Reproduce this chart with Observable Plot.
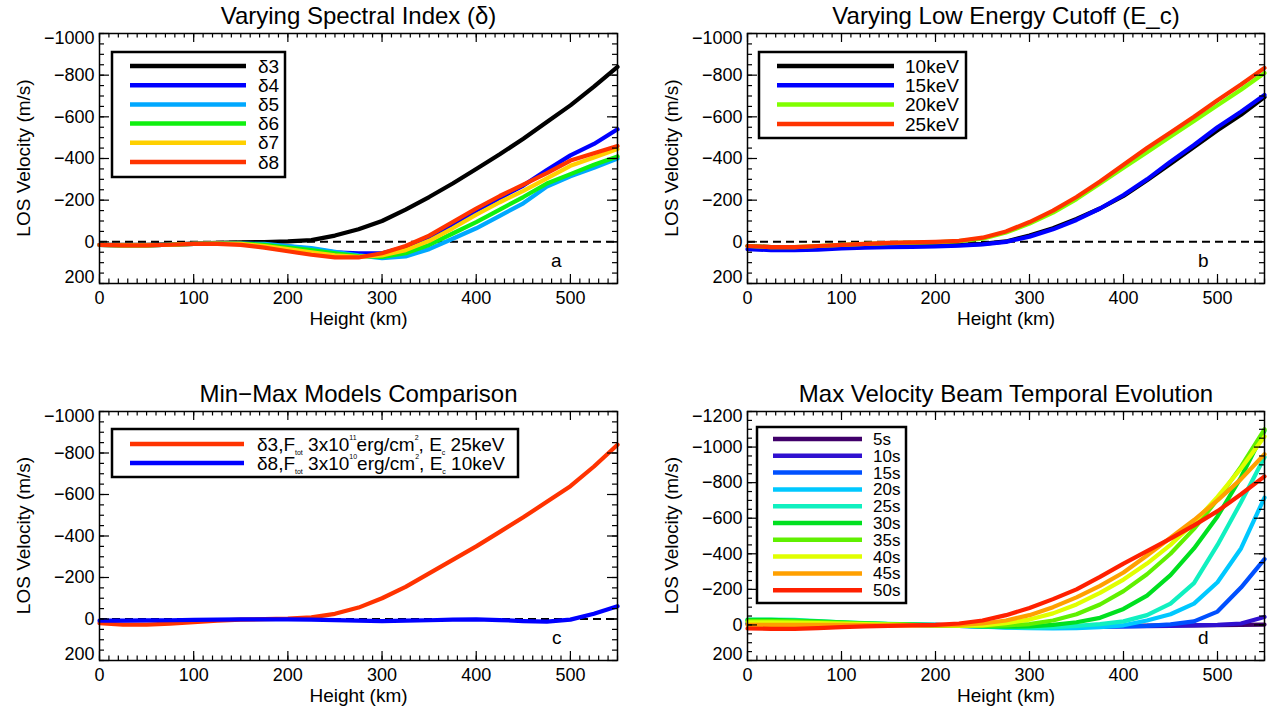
<!DOCTYPE html>
<html><head><meta charset="utf-8">
<script src="https://cdn.jsdelivr.net/npm/d3@7"></script>
<script src="https://cdn.jsdelivr.net/npm/@observablehq/plot@0.6"></script>
<style>
body{margin:0;background:#fff;width:1273px;height:713px;position:relative;overflow:hidden;font-family:"Liberation Sans",Arial,sans-serif}
.panel{position:absolute}
#overlay{position:absolute;left:0;top:0;pointer-events:none}
</style></head><body>
<script>
// ---------- DATA ----------
const heights = [0,25,50,75,100,125,150,175,200,225,250,275,300,325,350,375,400,425,450,475,500,525,550];

// Panel a: varying spectral index
const deltaNames = ["δ3","δ4","δ5","δ6","δ7","δ8"];
const delta3 = [15,15,15,12,8,5,3,1,-2,-8,-30,-60,-100,-155,-215,-280,-350,-420,-495,-575,-655,-745,-840];
const delta4 = [15,17,17,14,10,8,8,12,22,35,50,55,55,25,-20,-85,-150,-210,-270,-345,-415,-470,-540];
const delta5 = [15,17,17,14,10,8,8,10,20,30,48,65,78,70,35,-15,-65,-125,-185,-265,-315,-355,-400];
const delta6 = [15,17,17,14,10,8,8,15,28,40,55,68,72,55,15,-40,-95,-155,-215,-280,-325,-370,-410];
const delta7 = [15,17,17,14,10,8,10,20,35,50,65,72,65,40,-5,-65,-130,-190,-245,-305,-365,-405,-445];
const delta8 = [15,17,17,14,10,10,15,28,45,62,75,75,55,20,-30,-95,-160,-220,-275,-330,-390,-425,-460];
const deltaColors = ["#000000","#0000ff","#00a8ff","#10f010","#ffd000","#ff3300"];

// Panel b: varying low energy cutoff
const cutoffNames = ["10keV","15keV","20keV","25keV"];
const cut10 = [20,25,28,27,25,22,20,20,18,15,10,-2,-30,-65,-110,-160,-220,-295,-375,-455,-535,-610,-695];
const cut15 = [35,40,40,37,32,28,25,24,22,18,12,0,-25,-60,-105,-160,-225,-300,-385,-465,-550,-625,-705];
const cut20 = [20,25,25,20,15,10,6,4,2,-3,-15,-45,-88,-140,-205,-280,-355,-430,-505,-580,-655,-730,-810];
const cut25 = [20,25,25,20,15,10,5,3,0,-5,-20,-50,-95,-150,-215,-290,-370,-450,-525,-600,-680,-755,-835];
const cutoffColors = ["#000000","#0000ff","#80ff00","#ff3300"];

// Panel c: min-max models
const modelNames = ["max","min"];
const modelMax = [20,27,27,22,15,8,3,1,-2,-8,-25,-55,-100,-155,-220,-285,-350,-420,-490,-565,-640,-735,-840];
const modelMin = [8,8,7,6,4,3,2,2,2,3,5,8,10,8,6,3,2,5,10,13,3,-25,-62];
const modelColors = ["#ff3300","#0000ff"];

// Panel d: temporal evolution
const timeNames = ["5s","10s","15s","20s","25s","30s","35s","40s","45s","50s"];
const t5  = [-5,-5,-5,-4,-3,-2,-1,0,0,2,4,5,6,6,6,5,5,4,3,2,1,0,-2];
const t10 = [-8,-8,-8,-6,-5,-3,-2,0,2,4,6,8,10,10,10,9,8,7,5,3,0,-8,-45];
const t15 = [-12,-12,-12,-10,-8,-5,-3,0,3,6,9,12,13,13,12,10,8,5,-3,-20,-75,-210,-370];
const t20 = [-25,-22,-20,-15,-10,-7,-5,-2,0,5,10,15,18,20,18,12,2,-25,-60,-120,-240,-430,-716];
const t25 = [-30,-30,-28,-22,-15,-10,-6,-3,0,4,8,12,15,13,5,-5,-20,-55,-120,-235,-450,-690,-943];
const t30 = [-28,-28,-25,-20,-14,-9,-5,-2,1,4,8,10,8,0,-15,-40,-90,-165,-280,-430,-610,-830,-1092];
const t35 = [-22,-22,-20,-16,-12,-8,-4,-1,2,5,6,3,-5,-25,-60,-115,-190,-285,-400,-540,-705,-890,-1100];
const t40 = [-15,-15,-13,-10,-7,-4,-2,1,3,4,2,-10,-30,-65,-115,-180,-255,-345,-450,-575,-720,-880,-1060];
const t45 = [0,0,0,0,0,1,2,3,3,0,-8,-25,-55,-100,-155,-220,-295,-390,-490,-590,-700,-820,-960];
const t50 = [20,22,22,18,12,8,5,3,0,-8,-25,-55,-95,-145,-200,-270,-345,-415,-485,-560,-640,-735,-835];
const timeColors = ["#40006a","#3010d0","#0050ff","#00c8ff","#10f0c0","#00e020","#60f000","#e0ff00","#ffa000","#ff2000"];

const titles = ["Varying Spectral Index (δ)","Varying Low Energy Cutoff (E_c)","Min\u2212Max Models Comparison","Max Velocity Beam Temporal Evolution"];
const tags = ["a","b","c","d"];
const xLabel = "Height (km)";
const yLabel = "LOS Velocity (m/s)";

// ---------- DRAW ----------
const FONT = '"Liberation Sans", Arial, sans-serif';
const fmt = d => d < 0 ? "\u2212" + Math.abs(d) : String(d);
const ov = d3.select("body").append("svg").attr("id", "overlay").attr("width", 1273).attr("height", 713)
  .style("font-family", FONT).style("z-index", 5);

function makePanel({left, top, w, h, ml, mr, mt, mb, yMin, names, cols, series, title, tag}) {
  const fw = w - ml - mr, fh = h - mt - mb;
  const data = [];
  series.forEach((vals, k) => heights.forEach((x, i) => data.push({x, v: vals[i], name: names[k]})));
  const xMajor = d3.range(0, 501, 100), xMinor = d3.range(0, 551, 10);
  const yMajor = d3.range(yMin, 201, 200), yMinor = d3.range(yMin, 201, 50);
  const tk = {stroke: "black", strokeWidth: 1.2};
  const ax = {tickSize: 0, label: null, fontSize: 18, tickFormat: fmt};
  const svg = Plot.plot({
    width: w, height: h, marginLeft: ml, marginRight: mr, marginTop: mt, marginBottom: mb,
    x: {domain: [0, 550]},
    y: {domain: [200, yMin]},
    color: {domain: names, range: cols},
    style: {fontFamily: FONT, fontSize: "18px", color: "black", background: "white", overflow: "visible"},
    marks: [
      Plot.ruleY([0], {stroke: "black", strokeWidth: 2, strokeDasharray: "8,5"}),
      Plot.line(data, {x: "x", y: "v", z: "name", stroke: "name", strokeWidth: 4.2, strokeLinejoin: "round"}),
      Plot.tickX(xMinor, {x: d => d, insetTop: fh - 4.5, ...tk}),
      Plot.tickX(xMinor, {x: d => d, insetBottom: fh - 4.5, ...tk}),
      Plot.tickX(xMajor, {x: d => d, insetTop: fh - 9, ...tk}),
      Plot.tickX(xMajor, {x: d => d, insetBottom: fh - 9, ...tk}),
      Plot.tickY(yMinor, {y: d => d, insetRight: fw - 5, ...tk}),
      Plot.tickY(yMinor, {y: d => d, insetLeft: fw - 5, ...tk}),
      Plot.tickY(yMajor, {y: d => d, insetRight: fw - 10, ...tk}),
      Plot.tickY(yMajor, {y: d => d, insetLeft: fw - 10, ...tk}),
      Plot.frame({stroke: "black", strokeWidth: 1.5}),
      Plot.axisX({ticks: xMajor, tickPadding: 8, ...ax}),
      Plot.axisY({ticks: yMajor.slice(1, -1), tickPadding: 5, ...ax}),
      Plot.axisY({ticks: [yMin], tickPadding: 5, dy: 5, ...ax}),
      Plot.axisY({ticks: [200], tickPadding: 5, dy: -6, ...ax}),
      Plot.text([title], {frameAnchor: "top", dy: -10, lineAnchor: "bottom", fontSize: 24}),
      Plot.text([xLabel], {frameAnchor: "bottom", dy: 41, fontSize: 19}),
      Plot.text([tag], {frameAnchor: "bottom-right", dx: -56, dy: -17, fontSize: 19})
    ]
  });
  const div = document.createElement("div");
  div.className = "panel";
  div.style.left = left + "px"; div.style.top = top + "px";
  div.appendChild(svg);
  document.body.insertBefore(div, ov.node());
  // rotated y-axis label, centred on the frame
  const cx = left + ml - 76, cy = top + mt + fh / 2;
  ov.append("text").attr("transform", `translate(${cx},${cy}) rotate(-90)`)
    .attr("text-anchor", "middle").attr("dy", "0.35em").attr("font-size", 19).attr("fill", "black")
    .text(yLabel);
}

makePanel({left: 0, top: 0, w: 636, h: 356, ml: 99, mr: 19, mt: 33, mb: 73, yMin: -1000,
  names: deltaNames, cols: deltaColors, series: [delta3, delta4, delta5, delta6, delta7, delta8], title: titles[0], tag: tags[0]});
makePanel({left: 636, top: 0, w: 637, h: 356, ml: 111, mr: 9, mt: 33, mb: 73, yMin: -1000,
  names: cutoffNames, cols: cutoffColors, series: [cut10, cut15, cut20, cut25], title: titles[1], tag: tags[1]});
makePanel({left: 0, top: 356, w: 636, h: 357, ml: 99, mr: 19, mt: 55, mb: 53, yMin: -1000,
  names: modelNames, cols: modelColors, series: [modelMax, modelMin], title: titles[2], tag: tags[2]});
makePanel({left: 636, top: 356, w: 637, h: 357, ml: 111, mr: 9, mt: 55, mb: 53, yMin: -1200,
  names: timeNames, cols: timeColors, series: [t5, t10, t15, t20, t25, t30, t35, t40, t45, t50], title: titles[3], tag: tags[3]});

// ---------- LEGENDS (overlay) ----------
function legend({bx, by, bw, bh, lx1, lx2, ty0, step, tx, fs, labels, cols}) {
  const g = ov.append("g");
  g.append("rect").attr("x", bx).attr("y", by).attr("width", bw).attr("height", bh)
    .attr("fill", "white").attr("stroke", "black").attr("stroke-width", 2.5);
  labels.forEach((lab, i) => {
    const y = ty0 + i * step;
    g.append("line").attr("x1", lx1).attr("x2", lx2).attr("y1", y).attr("y2", y)
      .attr("stroke", cols[i]).attr("stroke-width", 4.5);
    const t = g.append("text").attr("x", tx).attr("y", y).attr("dy", "0.35em")
      .attr("font-size", fs).attr("fill", "black");
    if (typeof lab === "string") t.text(lab);
    else lab.forEach(([s, kind]) => {
      const sp = t.append("tspan").text(s);
      if (kind === "sub") sp.attr("font-size", 7).attr("dy", 4);
      else if (kind === "sup") sp.attr("font-size", 7).attr("dy", -11);
      else if (kind === "back") sp.attr("dy", -4);
      else if (kind === "back2") sp.attr("dy", 11);
    });
  });
}
legend({bx: 112, by: 52, bw: 173, bh: 125, lx1: 130, lx2: 246, ty0: 66, step: 19.2, tx: 258, fs: 19,
  labels: deltaNames, cols: deltaColors});
legend({bx: 759, by: 52, bw: 207, bh: 86, lx1: 777, lx2: 894, ty0: 66, step: 19.3, tx: 905, fs: 19,
  labels: cutoffNames, cols: cutoffColors});
const cLabels = [
  [["δ3,F"], ["tot", "sub"], [" 3x10", "back"], ["11", "sup"], ["erg/cm", "back2"], ["2", "sup"], [", E", "back2"], ["c", "sub"], [" 25keV", "back"]],
  [["δ8,F"], ["tot", "sub"], [" 3x10", "back"], ["10", "sup"], ["erg/cm", "back2"], ["2", "sup"], [", E", "back2"], ["c", "sub"], [" 10keV", "back"]]
];
legend({bx: 112, by: 429, bw: 406, bh: 48, lx1: 130, lx2: 244, ty0: 444, step: 19, tx: 257, fs: 19,
  labels: cLabels, cols: modelColors});
legend({bx: 757, by: 427, bw: 149, bh: 176, lx1: 773, lx2: 862, ty0: 439, step: 16.8, tx: 873, fs: 17,
  labels: timeNames, cols: timeColors});
</script>
</body></html>
